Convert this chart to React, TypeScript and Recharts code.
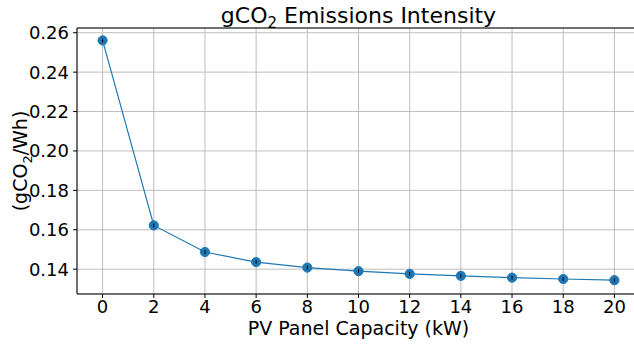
import React from 'react';
import {
  LineChart,
  Line,
  XAxis,
  YAxis,
  CartesianGrid,
  Label,
  ReferenceLine,
} from 'recharts';

// PV capacity (kW) vs emissions intensity (gCO2/Wh)
const capacity = [0, 2, 4, 6, 8, 10, 12, 14, 16, 18, 20];
const intensity = [0.2561, 0.1622, 0.1487, 0.1436, 0.1408, 0.139, 0.1376, 0.1366, 0.1357, 0.135, 0.1344];
const xTicks = [0, 2, 4, 6, 8, 10, 12, 14, 16, 18, 20];
const yTicks = [0.14, 0.16, 0.18, 0.2, 0.22, 0.24, 0.26];

const Y_MIN = 0.1274;
const Y_MAX = 0.2624;

const BLUE = '#1f77b4';
const FONT = 'DejaVu Sans, sans-serif';

const data = capacity.map((c, i) => ({ capacity: c, intensity: intensity[i] }));

// marker with the little black errorbar stroke matplotlib left inside it
const Marker = (props: any) => {
  const { cx, cy } = props;
  if (cx == null || cy == null) return null;
  return (
    <g>
      <circle cx={cx} cy={cy} r={4.6} fill={BLUE} stroke={BLUE} strokeWidth={1} />
      <line x1={cx} x2={cx} y1={cy - 2} y2={cy + 2} stroke="#000" strokeWidth={1} />
    </g>
  );
};

const Title = (props: any) => {
  const vb = props.viewBox || {};
  const cx = (vb.x ?? 77) + (vb.width ?? 563) / 2;
  return (
    <text x={cx} y={23} textAnchor="middle" fontFamily={FONT} fontSize={22} fill="#000">
      gCO<tspan fontSize={15} dy={5}>2</tspan>
      <tspan dy={-5}> Emissions Intensity</tspan>
    </text>
  );
};

const YTitle = (props: any) => {
  const vb = props.viewBox || {};
  const cy = vb.y + vb.height / 2;
  return (
    <text
      x={0}
      y={0}
      transform={`translate(27, ${cy}) rotate(-90)`}
      textAnchor="middle"
      fontFamily={FONT}
      fontSize={19}
      fill="#000"
    >
      (gCO<tspan fontSize={13} dy={5}>2</tspan>
      <tspan dy={-5}>/Wh)</tspan>
    </text>
  );
};

export default function App() {
  return (
    <div style={{ position: 'absolute', left: 0, top: 0, width: 634, height: 344, overflow: 'hidden', background: '#fff' }}>
      <LineChart
        width={640}
        height={344}
        data={data}
        margin={{ top: 28, right: 0, bottom: 0, left: 0 }}
      >
        <CartesianGrid stroke="#bdbdbd" strokeWidth={1} vertical horizontal />
        <XAxis
          dataKey="capacity"
          type="number"
          domain={[-1, 21]}
          ticks={xTicks}
          allowDataOverflow
          height={50}
          tickSize={4}
          tickMargin={2}
          stroke="#000"
          tick={{ fill: '#000', fontSize: 18, fontFamily: FONT }}
          axisLine={{ stroke: '#000', strokeWidth: 1 }}
          tickLine={{ stroke: '#000' }}
        >
          <Label
            value="PV Panel Capacity (kW)"
            position="insideBottom"
            offset={9}
            style={{ fill: '#000', fontSize: 19, fontFamily: FONT }}
          />
        </XAxis>
        <YAxis
          type="number"
          domain={[Y_MIN, Y_MAX]}
          ticks={yTicks}
          allowDataOverflow
          width={77}
          tickSize={4}
          tickMargin={4}
          tickFormatter={(v: number) => v.toFixed(2)}
          tick={{ fill: '#000', fontSize: 18, fontFamily: FONT }}
          axisLine={{ stroke: '#000', strokeWidth: 1 }}
          tickLine={{ stroke: '#000' }}
        >
          <Label content={<YTitle />} />
        </YAxis>
        <ReferenceLine y={Y_MAX} stroke="#000" strokeWidth={1} label={<Title />} />
        <Line
          type="linear"
          dataKey="intensity"
          stroke={BLUE}
          strokeWidth={1.2}
          dot={<Marker />}
          activeDot={false}
          isAnimationActive={false}
        />
      </LineChart>
    </div>
  );
}
